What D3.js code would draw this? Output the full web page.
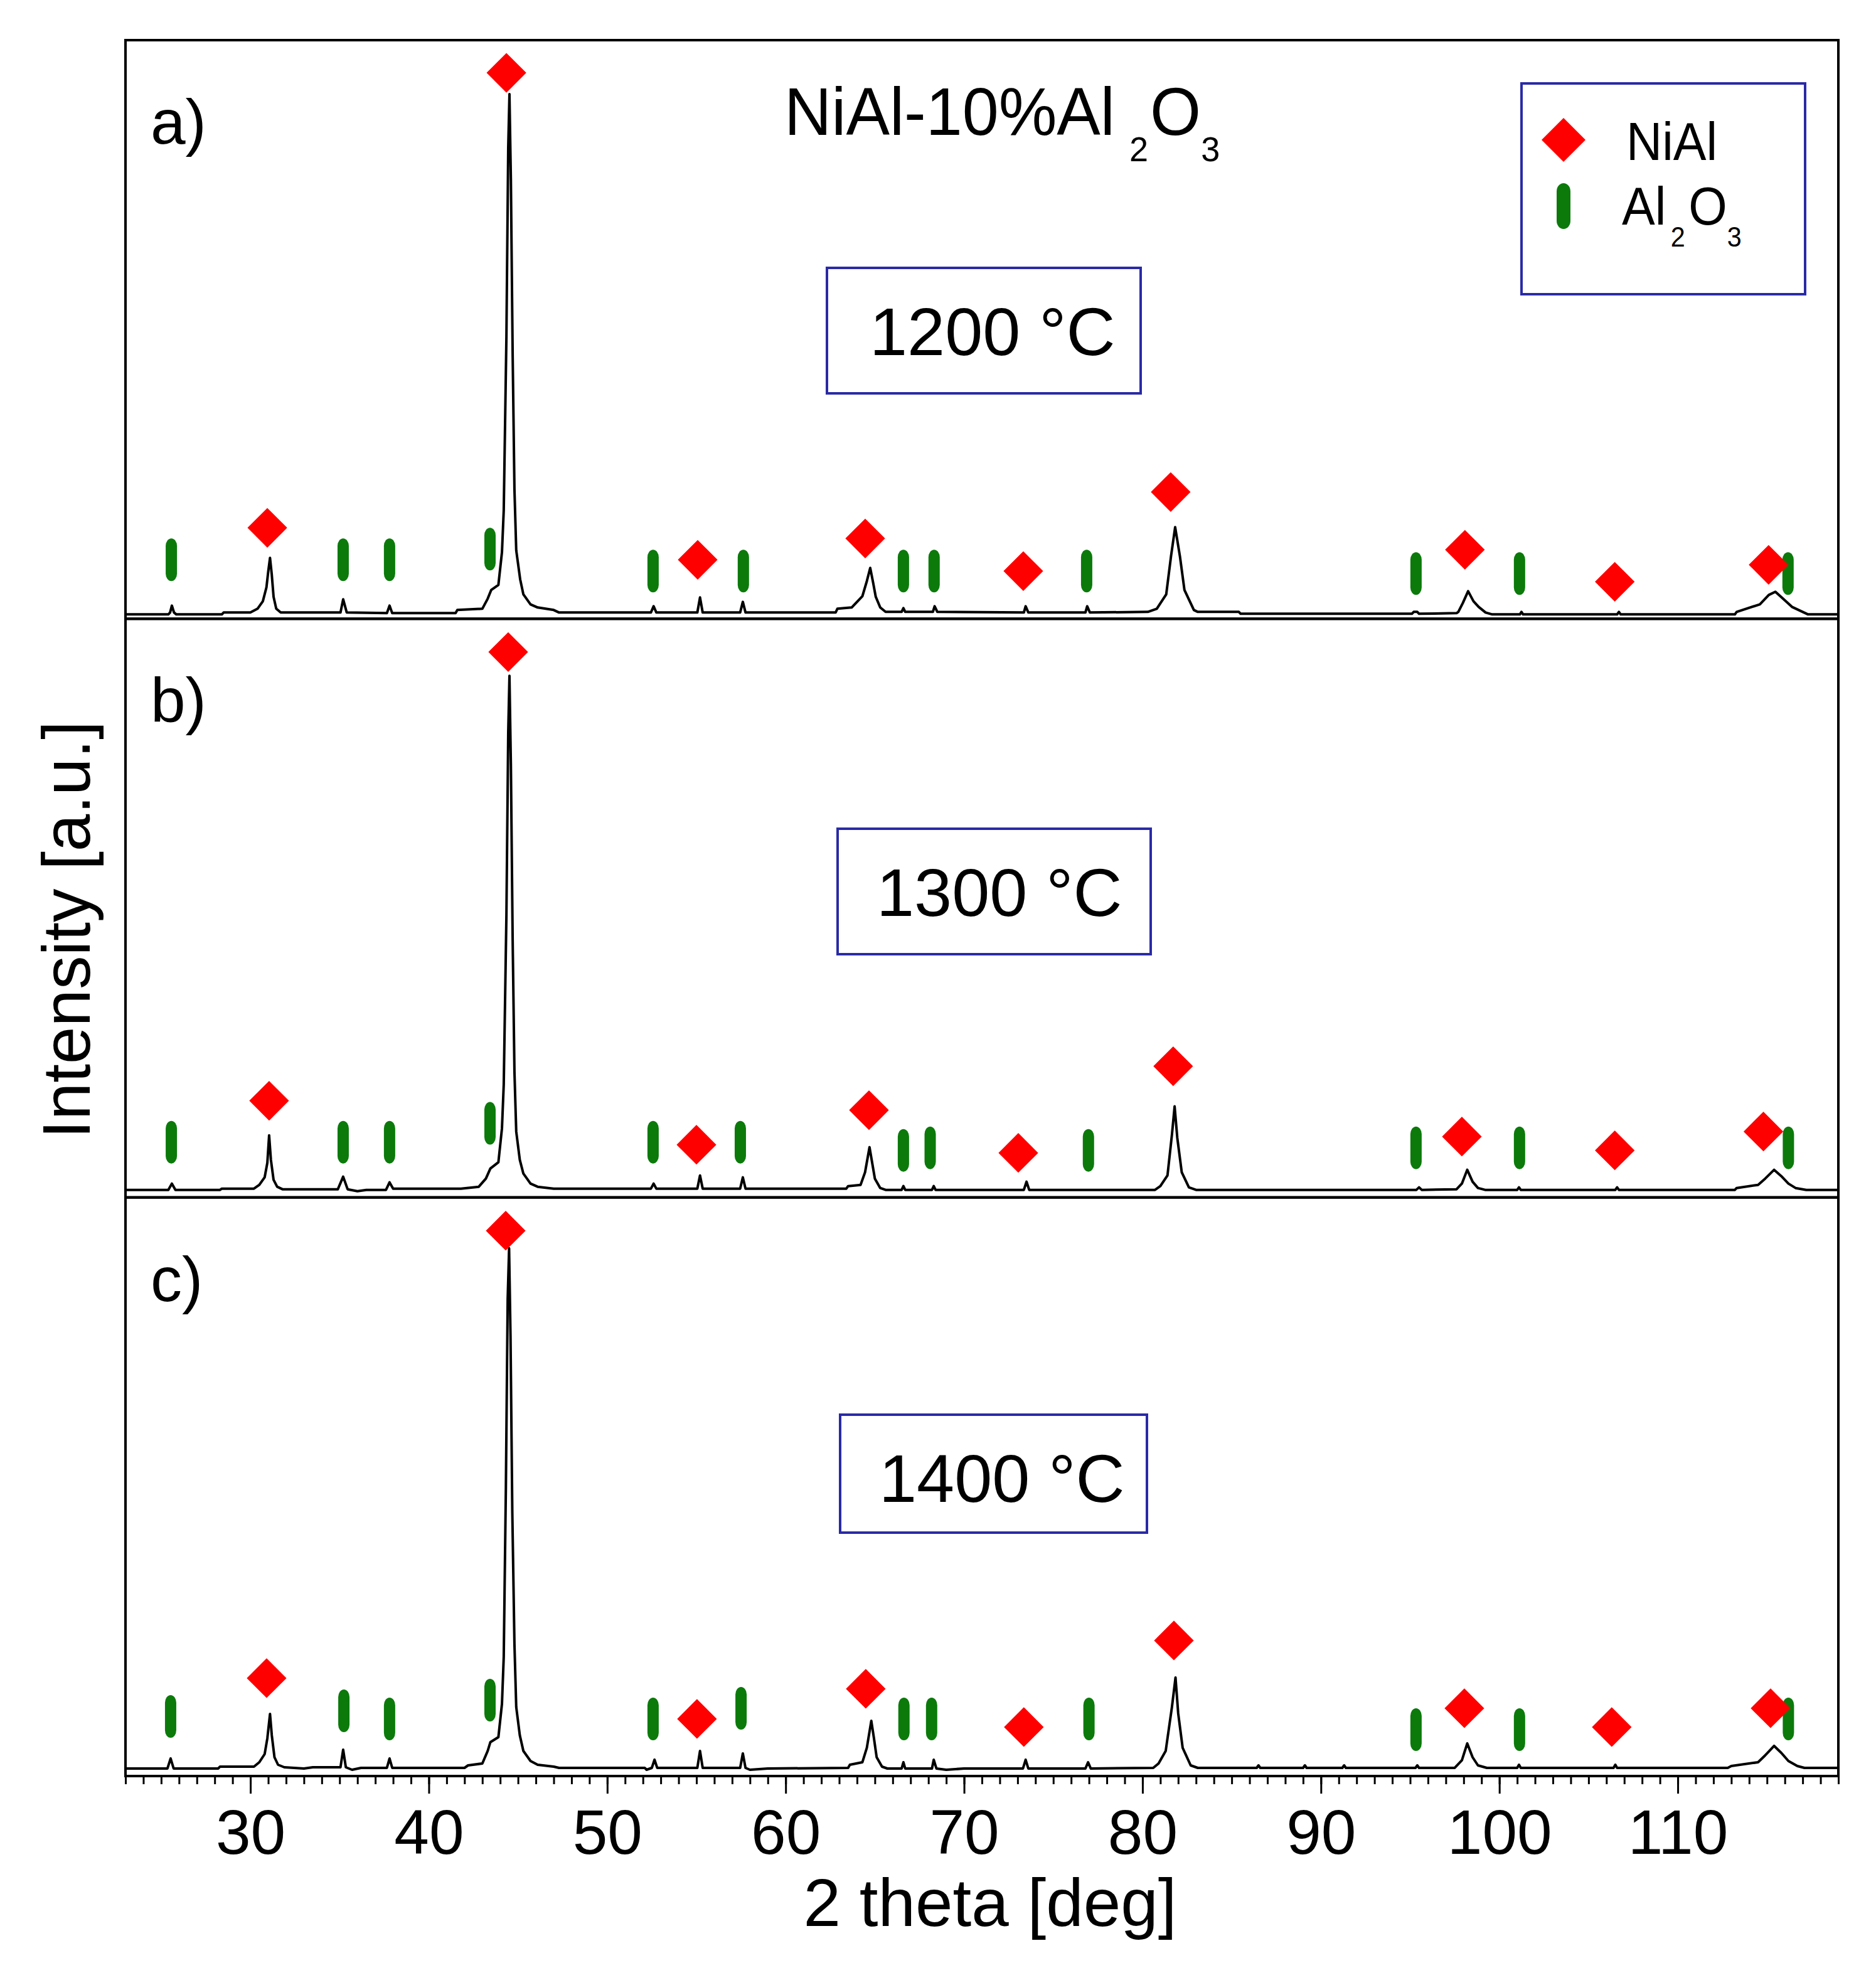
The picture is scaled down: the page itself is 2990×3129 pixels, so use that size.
<!DOCTYPE html>
<html><head><meta charset="utf-8">
<script src="https://cdn.jsdelivr.net/npm/d3@7"></script>
<style>body{margin:0;background:#fff} text{font-family:"Liberation Sans",Arial,sans-serif;fill:#000}</style>
</head><body><svg id="chart" width="2990" height="3129"></svg>
<script>
// ---------- data ----------
const xDomain = [23, 119];
const xTickLabels = [30, 40, 50, 60, 70, 80, 90, 100, 110];
const panelLabels = ["a)", "b)", "c)"];
const temperatures = ["1200 °C", "1300 °C", "1400 °C"];

// XRD traces [2theta, intensity a.u.]
const patternA = [[23.0,7],[25.4,7],[25.5,10],[25.6,21],[25.72,10],[25.85,7],[28.4,7],[28.5,10],[30.0,10],[30.4,16],[30.7,28],[30.9,50],[31.0,75],[31.1,97],[31.2,70],[31.3,35],[31.45,16],[31.7,10],[35.05,10],[35.2,31],[35.4,10],[37.65,9],[37.8,21],[37.95,9],[41.5,9],[41.6,14],[43.0,16],[43.3,32],[43.5,46],[43.9,54],[44.1,106],[44.2,173],[44.35,450],[44.45,750],[44.52,836],[44.6,700],[44.7,420],[44.8,206],[44.9,109],[45.12,63],[45.3,39],[45.7,23],[46.1,18],[47.0,14],[47.3,10],[52.45,10],[52.6,20],[52.75,10],[55.05,10],[55.2,34],[55.35,10],[57.45,10],[57.6,27],[57.75,10],[62.8,10],[62.9,16],[63.7,18],[64.3,36],[64.55,60],[64.74,81],[64.9,58],[65.05,35],[65.3,18],[65.6,11],[66.5,11],[66.6,17],[66.7,11],[68.25,11],[68.35,20],[68.5,11],[73.35,10],[73.45,20],[73.6,10],[76.8,10],[76.9,20],[77.05,10],[80.3,11],[80.8,16],[81.33,39],[81.6,100],[81.83,146],[82.1,99],[82.35,46],[82.88,14],[83.1,11],[85.4,11],[85.5,8],[95.1,8],[95.2,11],[95.4,11],[95.5,8],[97.6,9],[97.7,11],[97.95,25],[98.25,44],[98.55,28],[98.84,19],[99.23,10],[99.6,7],[101.15,7],[101.24,11],[101.33,7],[106.6,7],[106.7,11],[106.8,7],[113.2,7],[113.3,11],[114.6,23],[115.1,38],[115.47,43],[115.86,33],[116.4,19],[117.0,11],[117.3,7],[119.0,7]];
const patternB = [[23.0,12],[25.4,12],[25.6,22],[25.8,12],[28.3,12],[28.4,14],[30.2,14],[30.5,20],[30.8,32],[30.95,55],[31.05,99],[31.15,60],[31.3,28],[31.5,17],[31.8,13],[34.9,13],[35.2,33],[35.45,13],[36.0,10],[36.5,12],[37.6,12],[37.8,24],[38.0,14],[41.8,14],[42.8,17],[43.2,30],[43.45,46],[43.9,56],[44.1,110],[44.2,180],[44.35,450],[44.45,740],[44.52,831],[44.6,690],[44.7,410],[44.8,200],[44.9,105],[45.1,60],[45.3,38],[45.7,22],[46.1,17],[47.0,14],[52.45,14],[52.6,22],[52.75,14],[55.05,14],[55.2,35],[55.35,14],[57.45,14],[57.6,32],[57.75,14],[63.4,14],[63.5,18],[64.2,20],[64.45,40],[64.7,80],[64.85,55],[65.0,30],[65.3,15],[65.6,12],[66.5,12],[66.6,18],[66.7,12],[68.2,12],[68.3,18],[68.4,12],[73.35,12],[73.5,25],[73.65,12],[80.7,12],[81.0,18],[81.4,35],[81.65,100],[81.8,145],[81.95,95],[82.2,40],[82.6,16],[83.0,12],[95.35,12],[95.5,16],[95.65,12],[97.6,13],[97.9,22],[98.2,44],[98.5,25],[98.8,15],[99.2,12],[101.0,12],[101.1,16],[101.2,12],[106.5,12],[106.6,16],[106.7,12],[113.2,12],[113.3,15],[114.5,20],[114.9,30],[115.4,44],[115.8,34],[116.2,22],[116.6,15],[117.2,12],[119.0,12]];
const patternC = [[23.0,12],[25.35,12],[25.53,28],[25.7,12],[28.2,12],[28.3,15],[30.2,15],[30.5,22],[30.8,35],[30.95,60],[31.1,99],[31.2,65],[31.35,30],[31.55,18],[31.9,14],[33.0,12],[33.5,14],[35.05,14],[35.2,42],[35.35,14],[35.7,10],[36.2,13],[37.65,13],[37.8,28],[37.95,13],[42.0,13],[42.2,17],[43.0,20],[43.3,40],[43.45,54],[43.9,62],[44.1,115],[44.2,190],[44.32,460],[44.42,760],[44.5,841],[44.58,700],[44.68,420],[44.8,210],[44.9,110],[45.1,65],[45.3,40],[45.7,24],[46.1,18],[47.0,15],[47.3,13],[52.1,13],[52.2,10],[52.5,13],[52.65,26],[52.8,13],[55.05,13],[55.2,40],[55.35,13],[57.45,13],[57.6,36],[57.75,13],[58.0,10],[59.0,12],[63.5,13],[63.6,18],[64.3,22],[64.55,45],[64.8,88],[64.95,60],[65.1,30],[65.4,15],[65.7,12],[66.5,12],[66.6,22],[66.7,12],[68.2,12],[68.3,26],[68.45,12],[69.0,10],[70.0,12],[73.3,12],[73.45,26],[73.6,12],[76.8,12],[76.95,22],[77.1,12],[80.6,13],[80.9,20],[81.3,40],[81.65,110],[81.85,157],[82.0,100],[82.25,45],[82.7,17],[83.1,13],[86.4,13],[86.5,17],[86.6,13],[89.0,13],[89.1,17],[89.2,13],[91.2,13],[91.3,17],[91.4,13],[95.3,13],[95.4,17],[95.5,13],[97.5,13],[97.9,25],[98.2,52],[98.5,30],[98.8,17],[99.3,13],[101.0,13],[101.1,18],[101.2,13],[106.4,13],[106.5,18],[106.6,13],[112.8,13],[113.0,16],[114.5,22],[114.9,33],[115.4,48],[115.8,37],[116.2,24],[116.7,16],[117.1,13],[119.0,13]];

// phase markers [2theta, marker height a.u.]
const niAlA = [[30.95,145],[44.35,870],[55.07,94],[64.46,128],[73.32,76],[81.58,202],[98.07,110],[106.47,59],[115.09,86]];
const niAlB = [[31.05,154],[44.45,869],[55.0,84],[64.67,139],[73.04,71],[81.72,209],[97.9,97],[106.47,75],[114.8,105]];
const niAlC = [[30.91,156],[44.31,869],[55.03,91],[64.49,139],[73.35,78],[81.76,216],[98.04,108],[106.3,78],[115.2,108]];
const al2o3A = [[25.57,94],[35.2,94],[37.8,94],[43.43,111],[52.57,76],[57.63,76],[66.6,76],[68.32,76],[76.87,76],[95.33,72],[101.13,72],[116.18,72]];
const al2o3B = [[25.57,88],[35.2,88],[37.8,88],[43.43,118],[52.57,88],[57.46,88],[66.6,75],[68.1,79],[76.97,75],[95.33,79],[101.13,79],[116.2,79]];
const al2o3C = [[25.53,95],[35.24,104],[37.8,91],[43.43,121],[52.57,91],[57.5,108],[66.63,91],[68.18,91],[77.0,91],[95.33,74],[101.13,74],[116.2,91]];

const patterns = [patternA, patternB, patternC];
const niAlSets = [niAlA, niAlB, niAlC];
const al2o3Sets = [al2o3A, al2o3B, al2o3C];

// ---------- layout ----------
const RED = "#ff0000", GREEN = "#0b7a0b", BLUE = "#2a2aa6";
const plotL = 200, plotR = 2930, plotT = 64, plotB = 2831;
const panelH = (plotB - plotT) / 3;
const svg = d3.select("#chart");
const x = d3.scaleLinear().domain(xDomain).range([plotL, plotR]);

const diamond = d3.symbol().type(d3.symbolSquare).size(2000);

patterns.forEach((pat, i) => {
  const top = plotT + i * panelH;
  const y = d3.scaleLinear().domain([0, 922]).range([top + panelH, top]);
  const g = svg.append("g");
  g.append("path").datum(pat)
    .attr("d", d3.line().x(d => x(d[0])).y(d => y(d[1])))
    .attr("fill", "none").attr("stroke", "#000").attr("stroke-width", 4)
    .attr("stroke-linejoin", "round");
  g.selectAll(".al").data(al2o3Sets[i]).join("rect")
    .attr("x", d => x(d[0]) - 9).attr("y", d => y(d[1]) - 34)
    .attr("width", 18).attr("height", 68).attr("rx", 9).attr("ry", 12)
    .attr("fill", GREEN);
  g.selectAll(".ni").data(niAlSets[i]).join("path")
    .attr("d", diamond)
    .attr("transform", d => `translate(${x(d[0])},${y(d[1])}) rotate(45)`)
    .attr("fill", RED);
  g.append("rect").attr("x", plotL).attr("y", top).attr("width", plotR - plotL).attr("height", panelH)
    .attr("fill", "none").attr("stroke", "#000").attr("stroke-width", 4);
  // panel label
  g.append("text").attr("x", 240).attr("y", top + 165).attr("font-size", 100).text(panelLabels[i]);
});

// temperature boxes
const tBoxes = [[1318, 427, 500, 200, 1386], [1335, 1321, 499, 200, 1397], [1339, 2255, 489, 188, 1401]];
tBoxes.forEach((b, i) => {
  svg.append("rect").attr("x", b[0]).attr("y", b[1]).attr("width", b[2]).attr("height", b[3])
    .attr("fill", "#fff").attr("stroke", BLUE).attr("stroke-width", 4);
  svg.append("text").attr("x", b[4]).attr("y", b[1] + 139).attr("font-size", 108).text(temperatures[i]);
});

// title
const title = svg.append("text").attr("transform", "translate(1250,215) scale(0.965,1)").attr("font-size", 108);
title.append("tspan").text("NiAl-10%Al");
title.append("tspan").attr("dx", 24).attr("dy", 42).attr("font-size", 56).text("2");
title.append("tspan").attr("dx", 3).attr("dy", -42).text("O");
title.append("tspan").attr("dx", 0).attr("dy", 42).attr("font-size", 56).text("3");

// legend
svg.append("rect").attr("x", 2425).attr("y", 133).attr("width", 452).attr("height", 336)
  .attr("fill", "#fff").attr("stroke", BLUE).attr("stroke-width", 4);
svg.append("path").attr("d", d3.symbol().type(d3.symbolSquare).size(2450))
  .attr("transform", "translate(2492,223) rotate(45)").attr("fill", RED);
svg.append("rect").attr("x", 2481).attr("y", 292).attr("width", 22).attr("height", 73)
  .attr("rx", 11).attr("ry", 13).attr("fill", GREEN);
svg.append("text").attr("transform", "translate(2592,255) scale(0.92,1)").attr("font-size", 86).text("NiAl");
const lg = svg.append("text").attr("transform", "translate(2585,358) scale(0.92,1)").attr("font-size", 86);
lg.append("tspan").text("Al");
lg.append("tspan").attr("dx", 8).attr("dy", 35).attr("font-size", 45).text("2");
lg.append("tspan").attr("dx", 6).attr("dy", -35).text("O");
lg.append("tspan").attr("dx", 0).attr("dy", 35).attr("font-size", 45).text("3");

// x axis
const axG = svg.append("g").attr("transform", `translate(0,${plotB})`);
axG.append("g").call(d3.axisBottom(x).tickValues(d3.range(23, 120, 1)).tickSize(13).tickFormat(""));
const major = axG.append("g").call(d3.axisBottom(x).tickValues(xTickLabels).tickSize(28).tickFormat(d3.format("d")));
axG.selectAll(".domain").remove();
axG.selectAll(".tick line").attr("stroke", "#000").attr("stroke-width", 3);
major.selectAll(".tick text").attr("y", 124).attr("dy", null)
  .attr("font-size", 100).attr("font-family", '"Liberation Sans",Arial,sans-serif').attr("fill", "#000");

// axis titles
svg.append("text").attr("x", 1578).attr("y", 3070).attr("text-anchor", "middle")
  .attr("font-size", 107).text("2 theta [deg]");
svg.append("text").attr("transform", "translate(143,1482) rotate(-90)").attr("text-anchor", "middle")
  .attr("font-size", 107).text("Intensity [a.u.]");
</script></body></html>
